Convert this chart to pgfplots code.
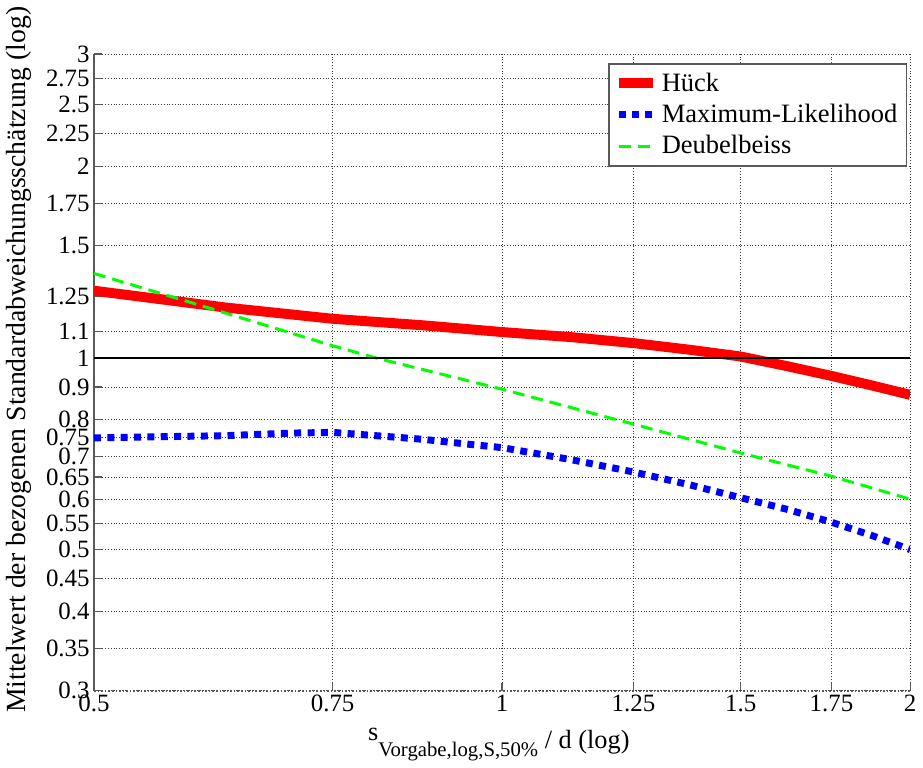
\documentclass[border=0pt]{standalone}
\usepackage{fontspec}
\setmainfont{Liberation Serif}
\usepackage{pgfplots}
\pgfplotsset{compat=1.18}

\newcommand{\tl}[1]{\textrm{#1}}

\begin{document}
\begin{tikzpicture}
\begin{axis}[
    width=409.5pt, height=319.5pt, scale only axis,
    xmode=log, ymode=log,
    xmin=0.5, xmax=2, ymin=0.3, ymax=3,
    axis x line=bottom, axis y line=left,
    axis line style={-, gray!70!black, line width=0.8pt},
    x axis line style={densely dotted},
    xminorticks=false, yminorticks=false,
    xtick={0.5,0.75,1,1.25,1.5,1.75,2},
    xticklabels={\tl{0.5},\tl{0.75},\tl{1},\tl{1.25},\tl{1.5},\tl{1.75},\tl{2}},
    ytick={0.3,0.35,0.4,0.45,0.5,0.55,0.6,0.65,0.7,0.75,0.8,0.9,1,1.1,1.25,1.5,1.75,2,2.25,2.5,2.75,3},
    yticklabels={\tl{0.3},\tl{0.35},\tl{0.4},\tl{0.45},\tl{0.5},\tl{0.55},\tl{0.6},\tl{0.65},\tl{0.7},\tl{0.75},\tl{0.8},\tl{0.9},\tl{1},\tl{1.1},\tl{1.25},\tl{1.5},\tl{1.75},\tl{2},\tl{2.25},\tl{2.5},\tl{2.75},\tl{3}},
    tick align=inside, major tick length=4pt,
    tick style={gray!70!black, line width=0.6pt},
    tick label style={font=\fontsize{12.5}{13}\selectfont},
    yticklabel style={inner xsep=2pt},
    xticklabel style={inner ysep=2pt},
    grid=major,
    major grid style={densely dotted, gray!50!black, line width=0.5pt},
    every axis y label/.style={at={(axis description cs:-0.0916,0.52)}, rotate=90, anchor=center,
        font=\fontsize{13.9}{16}\selectfont},
    every axis x label/.style={at={(axis description cs:0.496,-0.0908)}, anchor=base,
        font=\fontsize{13.2}{15}\selectfont},
    ylabel={Mittelwert der bezogenen Standardabweichungsschätzung (log)},
    xlabel={\raisebox{4pt}{s}\raisebox{-4pt}{\fontsize{10.4}{12}\selectfont Vorgabe,log,S,50\%}~/ d (log)},
    legend style={at={(axis description cs:0.9963,0.986)}, anchor=north east,
        draw=gray!70!black, line width=0.8pt, fill=white,
        font=\fontsize{13.3}{16}\selectfont, legend cell align=left,
        inner sep=2.5pt, row sep=1pt},
]

% Hueck
\addplot[red, line width=5pt, line join=round] coordinates {
    (0.5,1.275) (0.625,1.20) (0.75,1.152) (0.875,1.125) (1,1.098)
    (1.125,1.078) (1.25,1.055) (1.375,1.03) (1.5,1.005) (1.625,0.97)
    (1.75,0.937) (1.875,0.905) (2,0.875)
};
\addlegendentry{Hück}

% Maximum-Likelihood
\addplot[blue, line width=3.5pt, line cap=butt, dash pattern=on 3.5pt off 3.2pt] coordinates {
    (0.5,0.749) (0.625,0.755) (0.7,0.762) (0.75,0.764) (0.8,0.756)
    (0.875,0.745) (0.95,0.731) (1,0.723) (1.125,0.692) (1.25,0.662)
    (1.375,0.632) (1.5,0.603) (1.625,0.578) (1.75,0.552) (1.875,0.526)
    (2,0.500)
};
\addlegendentry{Maximum-Likelihood}

% Deubelbeiss
\addplot[green, line width=1.5pt, dash pattern=on 6pt off 3.5pt] coordinates {
    (0.5,1.357) (0.579,1.236) (0.75,1.045) (0.807,1.0) (1,0.893)
    (1.25,0.787) (1.5,0.709) (1.75,0.652) (2,0.600)
};
\addlegendentry{Deubelbeiss}

% reference line at 1
\addplot[black, line width=1pt, forget plot] coordinates {(0.5,1) (2,1)};

\end{axis}
\end{tikzpicture}
\end{document}
